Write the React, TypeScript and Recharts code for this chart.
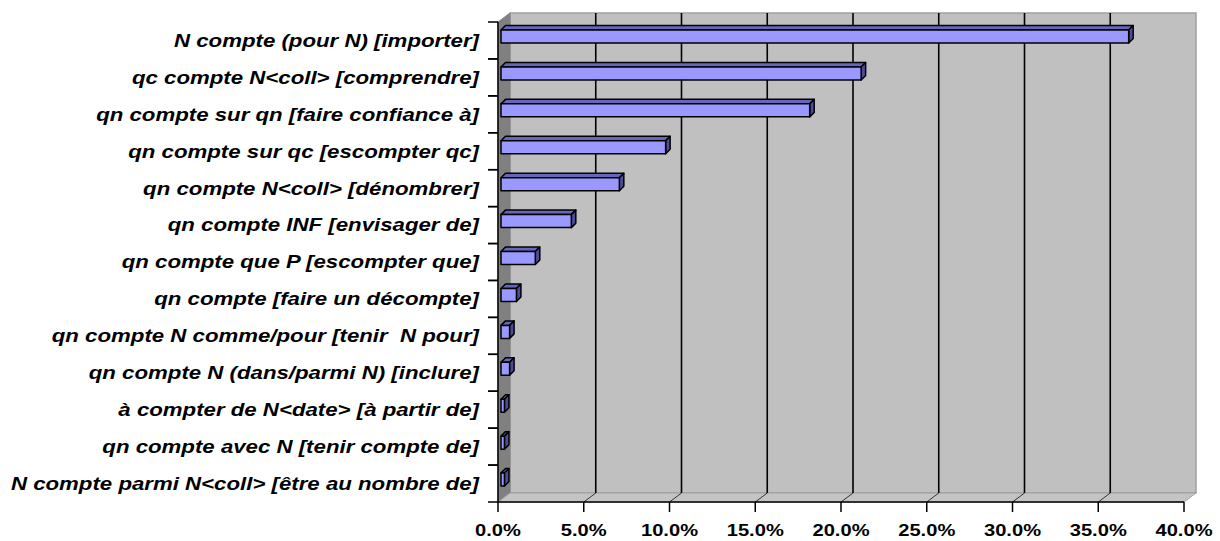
import { Bar, BarChart, CartesianGrid, XAxis, YAxis } from "recharts";

// categories, top to bottom
const categories = [
  "N compte (pour N) [importer]",
  "qc compte N<coll> [comprendre]",
  "qn compte sur qn [faire confiance à]",
  "qn compte sur qc [escompter qc]",
  "qn compte N<coll> [dénombrer]",
  "qn compte INF [envisager de]",
  "qn compte que P [escompter que]",
  "qn compte [faire un décompte]",
  "qn compte N comme/pour [tenir  N pour]",
  "qn compte N (dans/parmi N) [inclure]",
  "à compter de N<date> [à partir de]",
  "qn compte avec N [tenir compte de]",
  "N compte parmi N<coll> [être au nombre de]",
];

// share of occurrences, in percent
const shares = [36.6, 21.0, 18.0, 9.6, 6.9, 4.1, 2.0, 0.9, 0.5, 0.5, 0.2, 0.2, 0.2];

const xTicks = [0, 0.05, 0.1, 0.15, 0.2, 0.25, 0.3, 0.35, 0.4];

const data = categories.map((label, i) => ({ label, share: shares[i] / 100 }));

// 3D look of the Excel chart
const DEPTH_X = 12;
const DEPTH_Y = 9;
const BAR_DEPTH = 4.5;
const FONT = "'Liberation Sans', Arial, sans-serif";
const Y_TICK = 10;
const Y_GAP = 9;

const fmtPct = (v: number) => `${(v * 100).toFixed(1)}%`;

// back wall, left wall and floor, drawn once behind the grid lines
function walls(x: number, y: number, width: number, height: number) {
  const bx = x + DEPTH_X;
  const by = y - DEPTH_Y;
  return (
    <g>
      <rect x={bx} y={by} width={width} height={height} fill="#c0c0c0" stroke="#a0a0a0" strokeWidth={1.5} />
      <polygon
        points={`${x},${y} ${bx},${by} ${bx},${by + height} ${x},${y + height}`}
        fill="#808080"
        stroke="#808080"
      />
      <polygon
        points={`${x},${y + height} ${bx},${by + height} ${bx + width},${by + height} ${x + width},${y + height}`}
        fill="#c4c4c4"
        stroke="#a0a0a0"
      />
    </g>
  );
}

function gridLine(props: any) {
  const { x1, y1, y2, x, width, index } = props;
  const left = x ?? x1;
  const w = width ?? 686;
  if (index === 0 || Math.abs(x1 - left) < 1) {
    return <g key="walls">{walls(left, y1, w, y2 - y1)}</g>;
  }
  if (Math.abs(x1 - (left + w)) < 1) return null;
  return (
    <g key={`grid-${index ?? x1}`}>
      <line x1={x1 + DEPTH_X} y1={y1 - DEPTH_Y} x2={x1 + DEPTH_X} y2={y2 - DEPTH_Y} stroke="#000" strokeWidth={1.6} />
      <line x1={x1} y1={y2} x2={x1 + DEPTH_X} y2={y2 - DEPTH_Y} stroke="#333" strokeWidth={1} />
    </g>
  );
}

function Bar3D(props: any) {
  const { x, y, width, height } = props;
  if (width == null || height == null) return null;
  const fx = x + 3;
  const fy = y - 4;
  const d = BAR_DEPTH;
  const w = Math.max(width, 0);
  return (
    <g stroke="#000" strokeWidth={1.5} strokeLinejoin="round">
      <polygon points={`${fx},${fy} ${fx + d},${fy - d} ${fx + w + d},${fy - d} ${fx + w},${fy}`} fill="#6666bb" />
      <polygon
        points={`${fx + w},${fy} ${fx + w + d},${fy - d} ${fx + w + d},${fy + height - d} ${fx + w},${fy + height}`}
        fill="#4c4c99"
      />
      <rect x={fx} y={fy} width={w} height={height} fill="#9999ff" />
    </g>
  );
}

function CategoryTick(props: any) {
  const { x, y, payload } = props;
  const half = payload.offset ?? 18.46;
  const axisX = x + Y_TICK + Y_GAP;
  return (
    <g>
      <line x1={axisX - Y_TICK} y1={y - half} x2={axisX} y2={y - half} stroke="#000" strokeWidth={1.5} />
      <line x1={axisX - Y_TICK} y1={y + half} x2={axisX} y2={y + half} stroke="#000" strokeWidth={1.5} />
      <text
        transform={`translate(${x},${y}) scale(1.25,1)`}
        textAnchor="end"
        dy="0.36em"
        fontFamily={FONT}
        fontSize={17.8}
        fontWeight="bold"
        fontStyle="italic"
        fill="#000"
        style={{ whiteSpace: "pre" }}
      >
        {payload.value}
      </text>
    </g>
  );
}

function PercentTick(props: any) {
  const { x, y, payload } = props;
  return (
    <text
      transform={`translate(${x},${y}) scale(1.22,1)`}
      textAnchor="middle"
      dy="0.71em"
      fontFamily={FONT}
      fontSize={16.5}
      fontWeight="bold"
      fill="#000"
    >
      {fmtPct(payload.value)}
    </text>
  );
}

export default function App() {
  return (
    <div style={{ position: "absolute", left: 0, top: 0, width: 1220, height: 541, background: "#fff" }}>
      <BarChart
        width={1220}
        height={541}
        data={data}
        layout="vertical"
        margin={{ top: 22, right: 36, bottom: 0, left: 0 }}
      >
        <CartesianGrid horizontal={false} vertical={gridLine} />
        <XAxis
          type="number"
          domain={[0, 0.4]}
          ticks={xTicks}
          interval={0}
          height={39}
          tickSize={10}
          tickMargin={12}
          tick={PercentTick}
          axisLine={{ stroke: "#000", strokeWidth: 1.5 }}
          tickLine={{ stroke: "#000", strokeWidth: 1.5 }}
        />
        <YAxis
          type="category"
          dataKey="label"
          width={498}
          interval={0}
          tickSize={Y_TICK}
          tickMargin={Y_GAP}
          tickLine={false}
          tick={CategoryTick}
          axisLine={{ stroke: "#000", strokeWidth: 1.5 }}
        />
        <Bar dataKey="share" barSize={13} shape={Bar3D} isAnimationActive={false} />
      </BarChart>
    </div>
  );
}
